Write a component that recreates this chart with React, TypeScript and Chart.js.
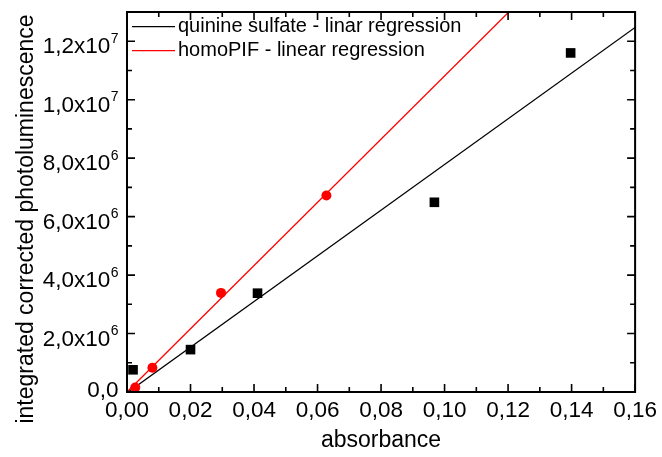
import React, { useEffect, useRef } from 'react';
import { Chart, registerables } from 'chart.js';

Chart.register(...registerables);

// ---- data ----
const quinineAbs = [0.0019, 0.02, 0.0411, 0.0968, 0.1397];
const quininePL = [0.76e6, 1.45e6, 3.38e6, 6.49e6, 11.6e6];
const homoAbs = [0.0026, 0.008, 0.0296, 0.0628];
const homoPL = [0.15e6, 0.83e6, 3.39e6, 6.72e6];

const quinineFitAbs = [0, 0.16];
const quinineFitPL = [-0.03e6, 12.47e6];
const homoFitAbs = [0, 0.16];
const homoFitPL = [0, 17.3e6];

const quinineFitLabel = 'quinine sulfate - linar regression';
const homoFitLabel = 'homoPIF - linear regression';

const xMajorTicks = [0, 0.02, 0.04, 0.06, 0.08, 0.1, 0.12, 0.14, 0.16];
const xTickLabels = ['0,00', '0,02', '0,04', '0,06', '0,08', '0,10', '0,12', '0,14', '0,16'];
const xMinorTicks = [0.01, 0.03, 0.05, 0.07, 0.09, 0.11, 0.13, 0.15];

const yMajorTicks = [0, 2e6, 4e6, 6e6, 8e6, 1e7, 1.2e7];
const yTickMantissa = ['0,0', '2,0x10', '4,0x10', '6,0x10', '8,0x10', '1,0x10', '1,2x10'];
const yTickExponent = ['', '6', '6', '6', '6', '7', '7'];
const yMinorTicks = [1e6, 3e6, 5e6, 7e6, 9e6, 1.1e7];

const xTitle = 'absorbance';
const yTitle = 'integrated corrected photoluminescence';

const FONT = '"Liberation Sans", Arial, sans-serif';

const toPoints = (xs: number[], ys: number[]) => xs.map((x, i) => ({ x, y: ys[i] }));

const framePlugin = {
  id: 'frameAndLabels',
  afterDraw(chart: any) {
    const { ctx, chartArea: a, scales } = chart;
    const xs = scales.x;
    const ys = scales.y;
    ctx.save();
    ctx.strokeStyle = '#000';
    ctx.fillStyle = '#000';

    // ticks (inward on all four sides)
    ctx.lineWidth = 1.6;
    ctx.beginPath();
    const xt = (vals: number[], len: number) => {
      vals.forEach((v) => {
        const p = xs.getPixelForValue(v);
        ctx.moveTo(p, a.bottom);
        ctx.lineTo(p, a.bottom - len);
        ctx.moveTo(p, a.top);
        ctx.lineTo(p, a.top + len);
      });
    };
    const yt = (vals: number[], len: number) => {
      vals.forEach((v) => {
        const p = ys.getPixelForValue(v);
        ctx.moveTo(a.left, p);
        ctx.lineTo(a.left + len, p);
        ctx.moveTo(a.right, p);
        ctx.lineTo(a.right - len, p);
      });
    };
    xt(xMajorTicks, 8);
    xt(xMinorTicks, 5);
    yt(yMajorTicks, 8);
    yt(yMinorTicks, 5);
    ctx.stroke();

    // frame
    ctx.lineWidth = 2;
    ctx.strokeRect(a.left, a.top, a.right - a.left, a.bottom - a.top);

    // y tick labels with superscript exponent
    const rightEdge = a.left - 8.5;
    yMajorTicks.forEach((v, i) => {
      const p = ys.getPixelForValue(v);
      const m = yTickMantissa[i];
      const e = yTickExponent[i];
      ctx.textBaseline = 'alphabetic';
      ctx.textAlign = 'left';
      if (e) {
        ctx.font = `14px ${FONT}`;
        const ew = ctx.measureText(e).width;
        ctx.font = `22.5px ${FONT}`;
        const mw = ctx.measureText(m).width;
        const x0 = rightEdge - ew - mw - 0.5;
        ctx.fillText(m, x0, p + 12);
        ctx.font = `14px ${FONT}`;
        ctx.fillText(e, x0 + mw + 0.5, p + 1.5);
      } else {
        ctx.font = `22.5px ${FONT}`;
        const mw = ctx.measureText(m).width;
        ctx.fillText(m, rightEdge - mw, p + 4.5);
      }
    });

    // y axis title
    ctx.save();
    ctx.translate(27, 219);
    ctx.rotate(-Math.PI / 2);
    ctx.font = `23px ${FONT}`;
    ctx.textAlign = 'center';
    ctx.textBaseline = 'middle';
    ctx.fillText(yTitle, 0, 0);
    ctx.restore();

    // legend inside the plot (regression lines only)
    const items = chart.data.datasets.filter((d: any) => d.showLine);
    items.forEach((d: any, i: number) => {
      const y = 26.7 + i * 24;
      ctx.strokeStyle = d.borderColor;
      ctx.lineWidth = 1.3;
      ctx.beginPath();
      ctx.moveTo(a.left + 5, y);
      ctx.lineTo(a.left + 48, y);
      ctx.stroke();
      ctx.font = `20px ${FONT}`;
      ctx.textAlign = 'left';
      ctx.textBaseline = 'middle';
      ctx.fillStyle = '#000';
      ctx.fillText(d.label, a.left + 51, y);
    });

    ctx.restore();
  },
};

export default function App() {
  const ref = useRef<HTMLCanvasElement | null>(null);

  useEffect(() => {
    if (!ref.current) return;
    const chart = new Chart(ref.current, {
      type: 'scatter',
      data: {
        datasets: [
          {
            label: 'homoPIF',
            data: toPoints(homoAbs, homoPL),
            pointStyle: 'circle',
            pointRadius: 5,
            pointHoverRadius: 5,
            pointBackgroundColor: '#ff0000',
            pointBorderWidth: 0,
            showLine: false,
          },
          {
            label: 'quinine sulfate',
            data: toPoints(quinineAbs, quininePL),
            pointStyle: 'rect',
            pointRadius: 6.8,
            pointHoverRadius: 6.8,
            pointBackgroundColor: '#000000',
            pointBorderWidth: 0,
            showLine: false,
          },
          {
            label: quinineFitLabel,
            data: toPoints(quinineFitAbs, quinineFitPL),
            showLine: true,
            borderColor: '#000000',
            borderWidth: 1.3,
            pointRadius: 0,
            fill: false,
          },
          {
            label: homoFitLabel,
            data: toPoints(homoFitAbs, homoFitPL),
            showLine: true,
            borderColor: '#ff0000',
            borderWidth: 1.3,
            pointRadius: 0,
            fill: false,
          },
        ],
      } as any,
      options: {
        animation: false,
        responsive: false,
        devicePixelRatio: 1,
        layout: { padding: { top: 12, right: 24, left: 0, bottom: 0 } },
        plugins: {
          legend: { display: false },
          tooltip: { enabled: false },
        },
        scales: {
          x: {
            type: 'linear',
            min: 0,
            max: 0.16,
            grid: { display: false, drawTicks: false },
            border: { display: false },
            afterBuildTicks: (s: any) => {
              s.ticks = xMajorTicks.map((v) => ({ value: v }));
            },
            afterFit: (s: any) => {
              s.height = 65;
            },
            ticks: {
              autoSkip: false,
              maxRotation: 0,
              padding: 5,
              color: '#000',
              font: { family: FONT, size: 22.5, lineHeight: 1.2 },
              callback: (_v: any, i: number) => xTickLabels[i],
            },
            title: {
              display: true,
              text: xTitle,
              color: '#000',
              font: { family: FONT, size: 23, lineHeight: 1.2 },
              padding: { top: 0, bottom: 3 },
            },
          },
          y: {
            type: 'linear',
            min: 0,
            max: 1.3e7,
            grid: { display: false, drawTicks: false },
            border: { display: false },
            afterBuildTicks: (s: any) => {
              s.ticks = yMajorTicks.map((v) => ({ value: v }));
            },
            afterFit: (s: any) => {
              s.width = 127;
            },
            ticks: { display: false },
            title: { display: false },
          },
        },
      } as any,
      plugins: [framePlugin],
    });
    return () => chart.destroy();
  }, []);

  return (
    <div style={{ position: 'absolute', left: 0, top: 0, width: 662, height: 457, background: '#fff' }}>
      <canvas ref={ref} width={662} height={457} style={{ display: 'block', width: 662, height: 457 }} />
    </div>
  );
}
